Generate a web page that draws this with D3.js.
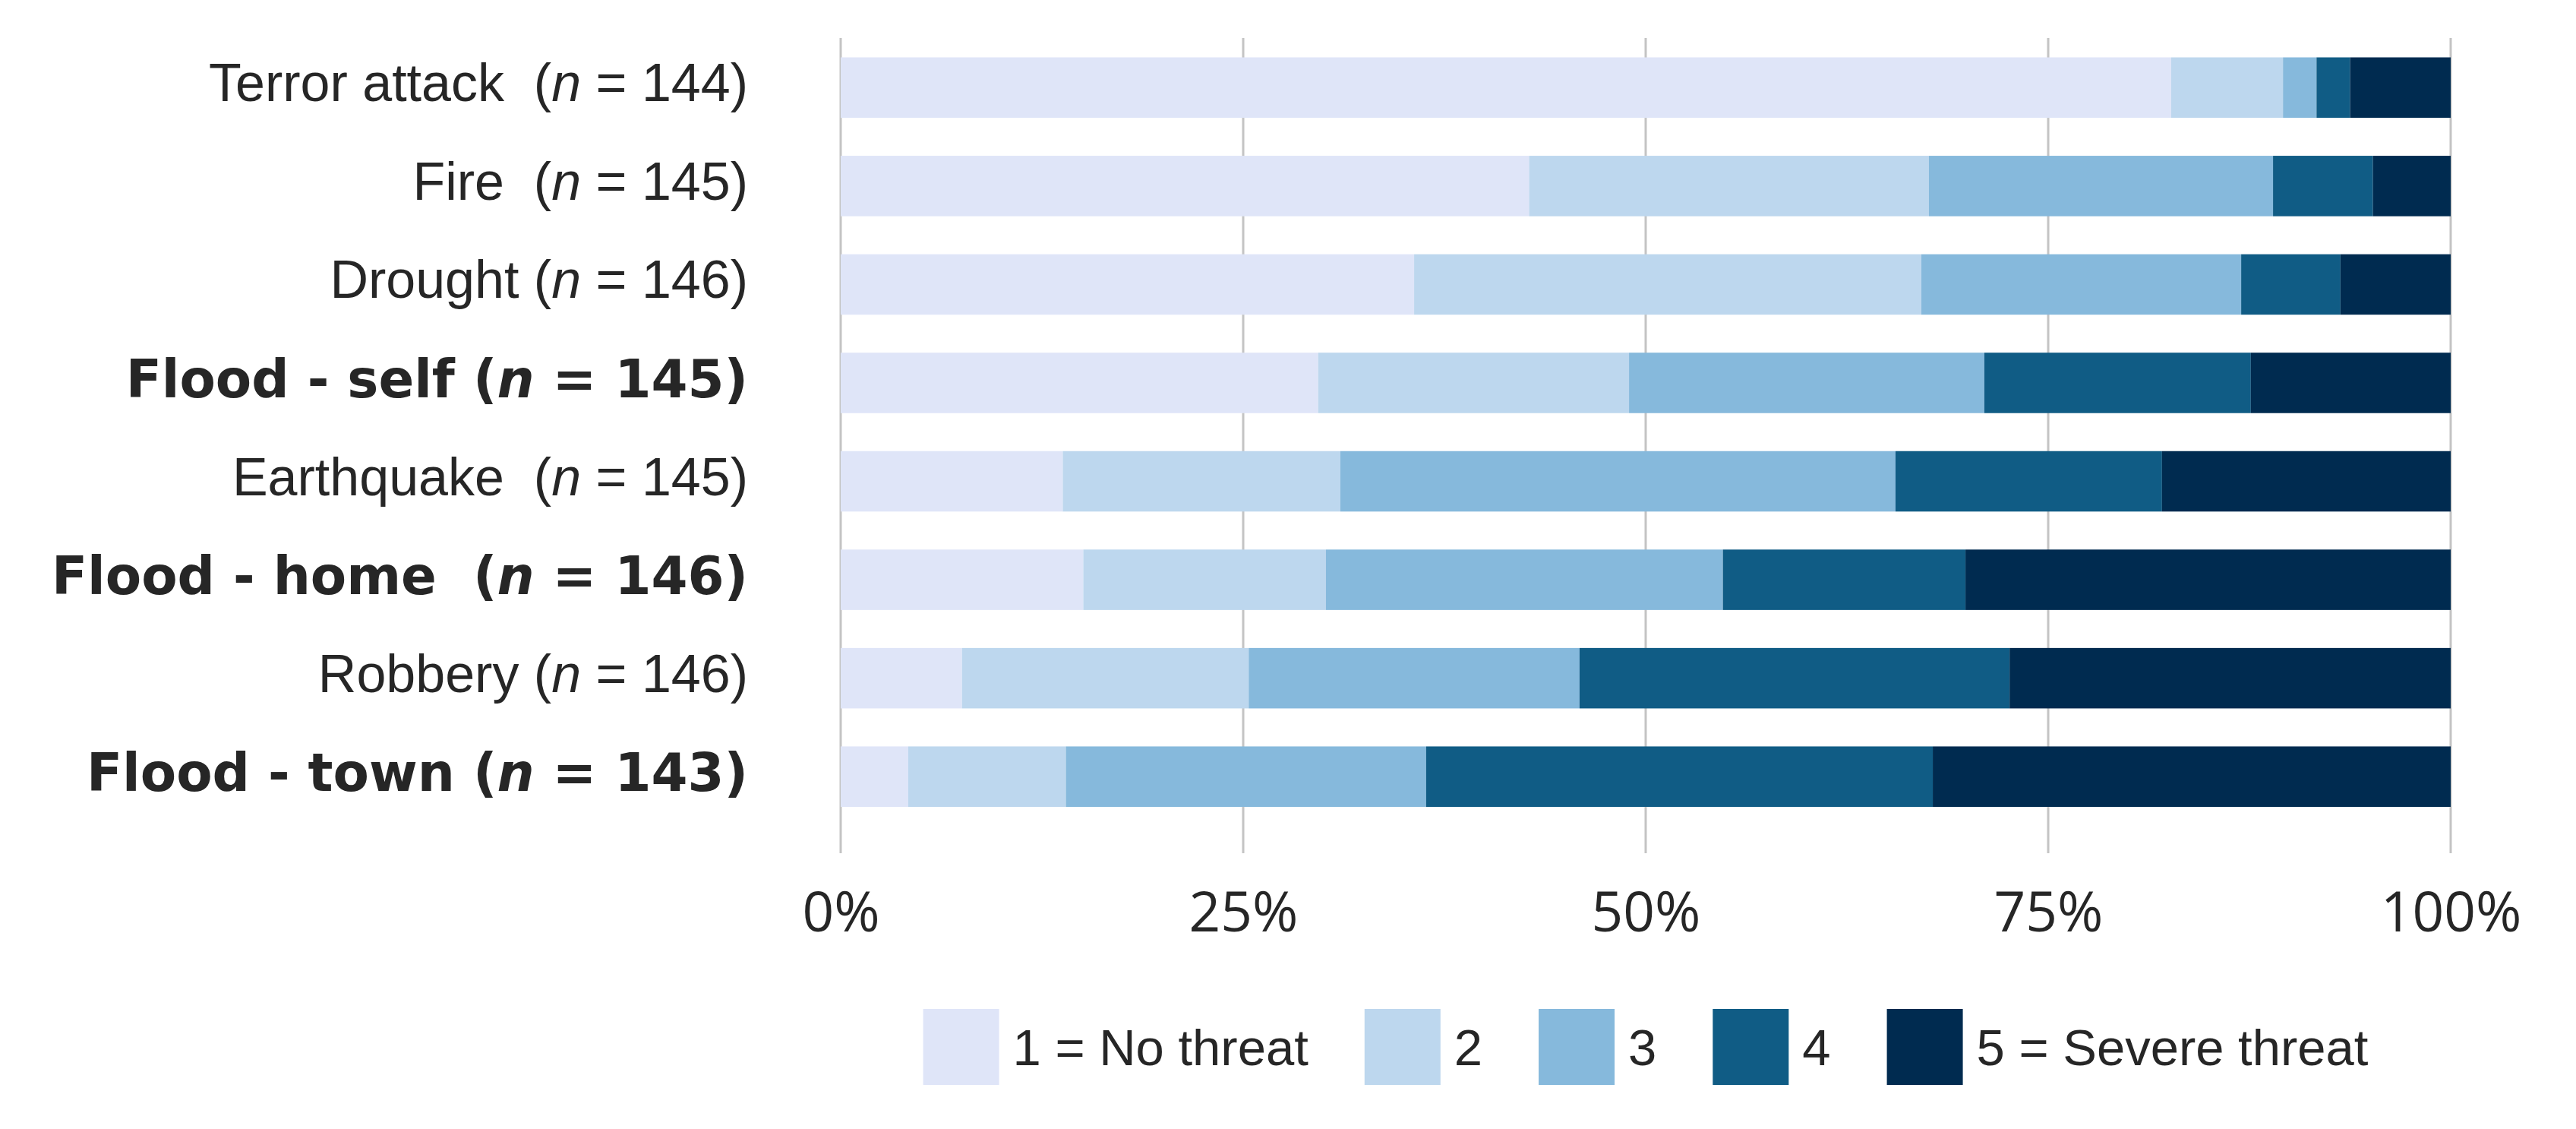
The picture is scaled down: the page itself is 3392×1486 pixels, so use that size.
<!DOCTYPE html>
<html>
<head>
<meta charset="utf-8">
<script src="https://cdn.jsdelivr.net/npm/d3@7"></script>
<style>
  html, body { margin: 0; padding: 0; background: #ffffff; }
  svg { display: block; }
  text { white-space: pre; }
</style>
</head>
<body>
<svg id="chart" width="3392" height="1486"></svg>
<script>
// ---- Data ----
const categories = ["Terror attack", "Fire", "Drought", "Flood - self", "Earthquake", "Flood - home", "Robbery", "Flood - town"];
const sampleSizes = [144, 145, 146, 145, 145, 146, 146, 143];
const boldRows = [false, false, false, true, false, true, false, true];
const nameGaps = ["  ", "  ", " ", " ", "  ", "  ", " ", " "];
const level1 = [119, 62, 52, 43, 20, 22, 11, 6];
const level2 = [10, 36, 46, 28, 25, 22, 26, 14];
const level3 = [3, 31, 29, 32, 50, 36, 30, 32];
const level4 = [3, 9, 9, 24, 24, 22, 39, 45];
const level5 = [9, 7, 10, 18, 26, 44, 40, 46];
const seriesKeys = ["l1", "l2", "l3", "l4", "l5"];
const legendLabels = ["1 = No threat", "2", "3", "4", "5 = Severe threat"];
const palette = ["#dfe5f8", "#bdd7ee", "#86b9dc", "#105c85", "#002b50"];
const tickValues = [0, 0.25, 0.5, 0.75, 1];

// ---- Build table (shares) ----
const levels = [level1, level2, level3, level4, level5];
const rows = categories.map((c, i) => {
  const r = { cat: c, n: sampleSizes[i] };
  seriesKeys.forEach((k, j) => { r[k] = levels[j][i] / sampleSizes[i]; });
  return r;
});

const svg = d3.select("#chart");
const x0 = 1107, x1 = 3227;
const gridTop = 50, gridBottom = 1123;

const x = d3.scaleLinear().domain([0, 1]).range([x0, x1]);
const y = d3.scaleBand().domain(categories).range([50.5, 1087]).paddingInner(0.386).paddingOuter(0.193);
const color = d3.scaleOrdinal().domain(seriesKeys).range(palette);

// gridlines
svg.append("g").selectAll("line").data(tickValues).join("line")
  .attr("x1", d => x(d)).attr("x2", d => x(d))
  .attr("y1", gridTop).attr("y2", gridBottom)
  .attr("stroke", "#c4c4c4").attr("stroke-width", 3);

// stacked bars
const stacked = d3.stack().keys(seriesKeys)(rows);
svg.append("g").selectAll("g").data(stacked).join("g")
  .attr("fill", d => color(d.key))
  .selectAll("rect").data(d => d).join("rect")
  .attr("x", d => x(d[0]))
  .attr("width", d => x(d[1]) - x(d[0]))
  .attr("y", d => y(d.data.cat))
  .attr("height", y.bandwidth());

// x axis
const xAxis = svg.append("g")
  .attr("transform", `translate(0, 1226)`)
  .call(d3.axisBottom(x).tickValues(tickValues).tickFormat(d3.format(".0%")).tickSize(0).tickPadding(0));
xAxis.select(".domain").remove();
xAxis.selectAll("text")
  .attr("dy", 0).attr("y", 0)
  .attr("font-family", "'Open Sans', sans-serif")
  .attr("font-size", 73)
  .attr("fill", "#262626");

// y axis labels
const yAxis = svg.append("g")
  .attr("transform", `translate(985, 0)`)
  .call(d3.axisLeft(y).tickSize(0).tickPadding(0));
yAxis.select(".domain").remove();
yAxis.selectAll(".tick text").each(function(d) {
  const i = categories.indexOf(d);
  const t = d3.select(this);
  const bold = boldRows[i];
  t.text(null)
    .attr("x", 0).attr("dy", bold ? 19 : 18)
    .attr("text-anchor", "end")
    .attr("fill", "#262626")
    .attr("font-family", bold ? "'DejaVu Sans', sans-serif" : "'Liberation Sans', Arial, sans-serif")
    .attr("font-weight", bold ? "bold" : "normal")
    .attr("font-size", bold ? 69 : 70);
  t.append("tspan").text(d + nameGaps[i] + "(");
  t.append("tspan").attr("font-style", "italic").text("n");
  t.append("tspan").text(" = " + sampleSizes[i] + ")");
});

// legend
const legend = svg.append("g");
const items = legend.selectAll("g").data(seriesKeys).join("g");
const sw = 100, gapText = 18, gapItem = 74;
items.append("rect").attr("width", sw).attr("height", sw).attr("y", 1328)
  .attr("fill", d => color(d));
items.append("text")
  .attr("x", sw + gapText).attr("y", 1402)
  .attr("font-family", "'Liberation Sans', Arial, sans-serif")
  .attr("font-size", 67).attr("fill", "#262626")
  .text((d, i) => legendLabels[i]);
let offs = [], cur = 0;
items.each(function() {
  const w = d3.select(this).select("text").node().getComputedTextLength();
  offs.push(cur);
  cur += sw + gapText + w + gapItem;
});
const totalW = cur - gapItem;
const startX = (x0 + x1) / 2 - totalW / 2;
items.attr("transform", (d, i) => `translate(${startX + offs[i]}, 0)`);
</script>
</body>
</html>
